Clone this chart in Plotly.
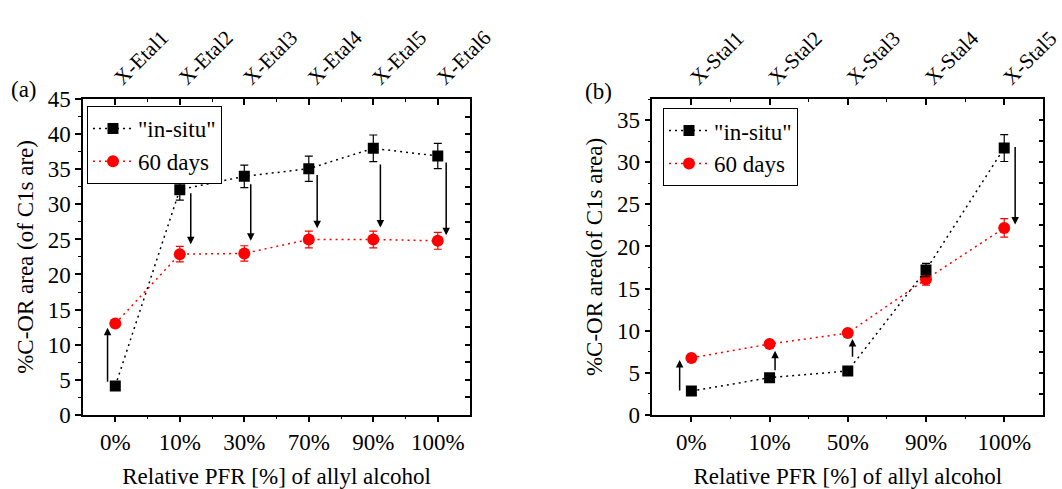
import plotly.graph_objects as go

# ---------------- Panel (a): ethanol-based films ----------------
cats_a = ["0%", "10%", "30%", "70%", "90%", "100%"]
samples_a = ["X-Etal1", "X-Etal2", "X-Etal3", "X-Etal4", "X-Etal5", "X-Etal6"]
insitu_a = [4.1, 32.1, 34.0, 35.1, 38.0, 36.9]
insitu_a_err = [0.3, 1.5, 1.6, 1.8, 1.9, 1.8]
days60_a = [13.0, 22.9, 23.0, 25.0, 25.0, 24.8]
days60_a_err = [0.4, 1.1, 1.1, 1.2, 1.2, 1.2]
arrow_a_from = [4.5, 31.8, 33.1, 34.4, 35.9, 36.2]
arrow_a_to = [12.4, 24.3, 24.8, 26.6, 26.7, 25.6]

# ---------------- Panel (b): styrene-based films ----------------
cats_b = ["0%", "10%", "50%", "90%", "100%"]
samples_b = ["X-Stal1", "X-Stal2", "X-Stal3", "X-Stal4", "X-Stal5"]
insitu_b = [2.8, 4.4, 5.2, 17.2, 31.7]
insitu_b_err = [0.2, 0.2, 0.2, 0.8, 1.6]
days60_b = [6.75, 8.4, 9.7, 16.1, 22.2]
days60_b_err = [0.2, 0.2, 0.2, 0.7, 1.1]
arrow_b_from = [2.7, 5.1, 6.7, 32.0]
arrow_b_to = [6.5, 7.6, 9.0, 22.6]
arrow_b_idx = [0, 1, 2, 4]

FONT = '"Liberation Serif", "Times New Roman", Times, serif'
FS = 23

fig = go.Figure()


def add_series(xa, ya, y, err, name, color, symbol, legend):
    fig.add_trace(go.Scatter(
        x=list(range(len(y))), y=y, xaxis=xa, yaxis=ya,
        mode="lines+markers", name=name, legend=legend,
        line=dict(color=color, width=1.5, dash="2px,4px"),
        marker=dict(color=color, symbol=symbol, size=11 if symbol == "square" else 12,
                    line=dict(width=0)),
        error_y=dict(type="data", array=err, visible=True, color=color,
                     thickness=1.2, width=4),
    ))


# "in-situ" goes on the top/right axis pair (same ranges), so those frame axes get drawn
add_series("x3", "y3", insitu_a, insitu_a_err, '"in-situ"', "black", "square", "legend")
add_series("x", "y", days60_a, days60_a_err, "60 days", "red", "circle", "legend")
add_series("x4", "y4", insitu_b, insitu_b_err, '"in-situ"', "black", "square", "legend2")
add_series("x2", "y2", days60_b, days60_b_err, "60 days", "red", "circle", "legend2")

# ageing arrows, drawn just beside each category
offs_a = [-0.12, 0.17, 0.1, 0.13, 0.11, 0.13]
for i, (y0, y1) in enumerate(zip(arrow_a_from, arrow_a_to)):
    fig.add_annotation(x=i + offs_a[i], y=y1, ax=i + offs_a[i], ay=y0,
                       xref="x", yref="y", axref="x", ayref="y",
                       showarrow=True, arrowhead=2, arrowsize=1, arrowwidth=1.5,
                       arrowcolor="black", standoff=0, startstandoff=0, text="")
offs_b = [-0.15, 0.07, 0.06, 0.14]
for k, (i, y0, y1) in enumerate(zip(arrow_b_idx, arrow_b_from, arrow_b_to)):
    fig.add_annotation(x=i + offs_b[k], y=y1, ax=i + offs_b[k], ay=y0,
                       xref="x2", yref="y2", axref="x2", ayref="y2",
                       showarrow=True, arrowhead=2, arrowsize=1, arrowwidth=1.5,
                       arrowcolor="black", standoff=0, startstandoff=0, text="")

YDOM = [0.152, 0.797]
common = dict(showgrid=False, zeroline=False, showline=True, linecolor="black",
              linewidth=1.5, tickcolor="black", tickwidth=1.5, automargin=False,
              tickfont=dict(family=FONT, size=FS, color="black"))


def bottom_x(cats, dom, title):
    n = len(cats)
    return dict(common, domain=dom, range=[-0.5, n - 0.5], tickmode="array",
                tickvals=list(range(n)), ticktext=cats, ticks="outside", ticklen=6,
                minor=dict(tickmode="array", tickvals=[i + 0.5 for i in range(n - 1)],
                           ticks="outside", ticklen=3, tickcolor="black", tickwidth=1.2),
                title=dict(text=title, font=dict(family=FONT, size=FS, color="black"),
                           standoff=14))


def top_x(samples, over):
    n = len(samples)
    return dict(common, overlaying=over, side="top", range=[-0.5, n - 0.5],
                tickmode="array", tickvals=list(range(n)), ticktext=samples,
                tickfont=dict(family=FONT, size=21, color="black"),
                ticks="inside", ticklen=6, tickangle=-45, ticklabeloverflow="allow",
                minor=dict(tickmode="array", tickvals=[i + 0.5 for i in range(n - 1)],
                           ticks="inside", ticklen=3, tickcolor="black", tickwidth=1.2))


def left_y(rng, title, anchor):
    return dict(common, domain=YDOM, range=rng, anchor=anchor, dtick=5, ticks="outside",
                ticklen=6, minor=dict(dtick=2.5, ticks="outside", ticklen=3,
                                      tickcolor="black", tickwidth=1.2),
                title=dict(text=title, font=dict(family=FONT, size=FS, color="black"),
                           standoff=8))


def right_y(rng, over, anchor):
    return dict(common, overlaying=over, anchor=anchor, side="right", range=rng,
                dtick=2.5, ticks="inside", ticklen=5, showticklabels=False)


xlab = "Relative PFR [%] of allyl alcohol"
legend_style = dict(xanchor="left", yanchor="top", bgcolor="white",
                    bordercolor="black", borderwidth=1,
                    font=dict(family=FONT, size=FS, color="black"),
                    tracegroupgap=0, itemwidth=40, traceorder="normal")
fig.update_layout(
    width=1062, height=489,
    margin=dict(l=0, r=0, t=0, b=0, autoexpand=False),
    paper_bgcolor="white", plot_bgcolor="white",
    font=dict(family=FONT, size=FS, color="black"),
    xaxis=dict(bottom_x(cats_a, [0.0782, 0.4426], xlab), anchor="y"),
    yaxis=left_y([0, 45], "%C-OR area (of C1s are)", "x"),
    xaxis3=dict(top_x(samples_a, "x"), anchor="y"),
    yaxis3=right_y([0, 45], "y", "x"),
    xaxis2=dict(bottom_x(cats_b, [0.6142, 0.9824], xlab), anchor="y2"),
    yaxis2=left_y([0, 37.5], "%C-OR area(of C1s area)", "x2"),
    xaxis4=dict(top_x(samples_b, "x2"), anchor="y2"),
    yaxis4=right_y([0, 37.5], "y2", "x2"),
    legend=dict(legend_style, x=0.0819, y=0.7832),
    legend2=dict(legend_style, x=0.6243, y=0.779),
)

for label, px, py in [("(a)", 24, 89), ("(b)", 598, 91)]:
    fig.add_annotation(x=px / 1062, y=1 - py / 489, xref="paper", yref="paper",
                       xanchor="center", yanchor="middle",
                       text=label, showarrow=False,
                       font=dict(family=FONT, size=FS, color="black"))

fig.write_html("out.html")
